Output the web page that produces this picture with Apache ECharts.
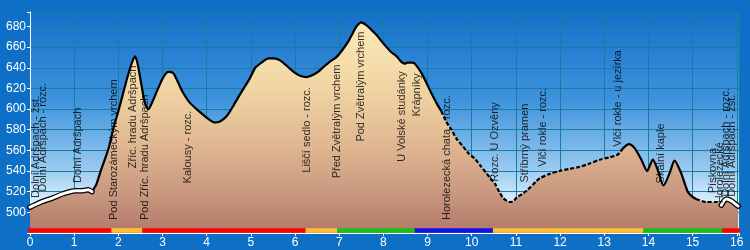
<!DOCTYPE html>
<html>
<head>
<meta charset="utf-8">
<script src="https://cdn.jsdelivr.net/npm/echarts@6/dist/echarts.min.js"></script>
<style>
html,body{margin:0;padding:0;background:#0d6fc6;}
#c{width:750px;height:250px;}
</style>
</head>
<body>
<div id="c"></div>
<script>
// ---- data ----
const dist = [0.00,0.25,0.52,0.75,1.02,1.20,1.32,1.40,1.50,1.60,1.70,1.78,1.88,2.00,2.10,2.20,2.30,2.38,2.44,2.52,2.60,2.68,2.78,2.90,3.02,3.13,3.24,3.35,3.45,3.62,3.85,4.05,4.18,4.30,4.45,4.60,4.75,4.98,5.10,5.24,5.40,5.50,5.62,5.73,5.86,6.00,6.13,6.26,6.40,6.52,6.65,6.79,6.93,7.05,7.20,7.30,7.39,7.50,7.62,7.72,7.84,7.95,8.07,8.18,8.30,8.40,8.48,8.55,8.65,8.71,8.86,9.00,9.09,9.20,9.31,9.42,9.54,9.66,9.80,9.93,10.07,10.20,10.33,10.42,10.52,10.62,10.71,10.80,10.86,10.95,11.01,11.15,11.27,11.46,11.54,11.75,11.99,12.20,12.44,12.65,12.90,13.10,13.31,13.42,13.56,13.69,13.84,13.97,14.03,14.10,14.21,14.34,14.48,14.59,14.74,14.89,15.00,15.08,15.31,15.54,15.65,15.76,15.88,16.03];
const elev = [505,510,514,518,521,521,522,520,527,540,552,562,580,598,614,630,644,651,643,624,606,600,608,620,631,636,635,626,617,606,597,590,587,588,593,603,614,630,640,645,649,649,648,645,640,635,632,631,633,636,641,646,650,656,665,673,680,684,681,677,672,666,660,655,651,646,644,645,645,644,635,623,615,606,598,588,580,571,564,557,552,545,538,533,528,520,514,511,510,511,514,518,522,530,533,537,540,542,544,547,551,553,556,562,566,562,551,540,545,551,541,526,538,550,538,520,515,513,510,510,507,513,511,506];

const wpNames = ["Dolní Adršpach - žst.","Dolní Adršpach - rozc.","Dolní Adršpach","Pod Starozámeckým vrchem","Zříc. hradu Adršpach","Pod Zříc. hradu Adršpach","Kalousy - rozc.","Liščí sedlo - rozc.","Před Zvětralým vrchem","Pod Zvětralým vrchem","U Volské studánky","Krápníky","Horolezecká chata - rozc.","Rozc. U Ozvěny","Stříbrný pramen","Vlčí rokle - rozc.","Vlčí rokle - u jezírka","Skalní kaple","Pískovna","Horolezecké","Dolní Adršpach - rozc.","Dolní Adršpach - žst."];
const wpDist = [0.14,0.29,1.09,1.91,2.32,2.60,3.58,6.27,6.94,7.50,8.42,8.75,9.44,10.52,11.20,11.61,13.31,14.29,15.46,15.61,15.75,15.90];
const wpLabelElev = [514,520,528.5,492.6,542.7,492.6,528,538.4,533,568.5,549,592.7,492.6,529.7,528.8,544.2,563.6,528,518.5,508.8,515,515];

const trailStart = [0.00,1.84,2.54,6.24,6.95,8.71,10.48,13.88,15.71];
const trailEnd   = [1.84,2.54,6.24,6.95,8.71,10.48,13.88,15.71,16.03];
const trailColor = ['#ff0000','#ffc030','#ff0000','#ffc030','#18c018','#1010e8','#ffc030','#18c018','#ff0000'];

const yTicksMin = 500, yTicksMax = 680;

// ---- styling config ----
const solidRanges  = [[1.40, 9.31],[13.42, 15.08]];
const dashedRanges = [[9.31, 13.42],[15.08, 15.65]];
const whiteRanges  = [[0, 1.40],[15.65, 16.03]];
const barLevel = 482.5;
const FONT = '"Liberation Sans", Arial, sans-serif';
const SMOOTH = 0.25;

const profile = dist.map((d,i)=>[d, elev[i]]);
const inRange = r => profile.filter(p => p[0] >= r[0]-1e-9 && p[0] <= r[1]+1e-9);

const series = [];
series.push({
  type:'line', data: profile, symbol:'none', smooth:SMOOTH, z:2,
  lineStyle:{width:0},
  areaStyle:{ origin:'start', opacity:1,
    color:new echarts.graphic.LinearGradient(0,0,0,1,[
      {offset:0,color:'#fbe9b7'},
      {offset:0.3,color:'#f1d6a5'},
      {offset:0.6,color:'#deb590'},
      {offset:0.82,color:'#c8977f'},
      {offset:1,color:'#b27867'}])}
});
solidRanges.forEach(r=>series.push({type:'line',data:inRange(r),symbol:'none',smooth:SMOOTH,z:4,lineStyle:{color:'#000',width:2.2}}));
dashedRanges.forEach(r=>series.push({type:'line',data:inRange(r),symbol:'none',smooth:SMOOTH,z:4,lineStyle:{color:'#000',width:2.2,type:[4,2]}}));
whiteRanges.forEach(r=>{
  series.push({type:'line',data:inRange(r),symbol:'none',smooth:SMOOTH,z:4,clip:false,lineStyle:{color:'#000',width:5.5,cap:'round'}});
  series.push({type:'line',data:inRange(r),symbol:'none',smooth:SMOOTH,z:5,clip:false,lineStyle:{color:'#fff',width:3,cap:'round'}});
});
trailStart.forEach((s,i)=>series.push({type:'line',data:[[s,barLevel],[trailEnd[i],barLevel]],symbol:'none',z:6,clip:false,
  lineStyle:{color:trailColor[i],width:4.5,cap:(i===0||i===trailStart.length-1)?'round':'butt'}}));
series.push({
  type:'scatter', z:7, symbol:'circle', symbolSize:1, itemStyle:{color:'rgba(0,0,0,0)'},
  data: wpDist.map((d,i)=>({value:[d, wpLabelElev[i]], name:wpNames[i]})),
  label:{show:true, formatter:p=>p.name, position:'inside', rotate:90, align:'left', verticalAlign:'middle',
    color:'#000', fontSize:11, fontFamily:FONT},
  labelLayout:{hideOverlap:false}
});

const chart = echarts.init(document.getElementById('c'), null, {renderer:'canvas'});
chart.setOption({
  animation:false,
  backgroundColor:'#0d6fc6',
  grid:{left:30,right:11,top:12,bottom:17,show:true,borderWidth:0,
    backgroundColor:new echarts.graphic.LinearGradient(0,0,0,1,[
      {offset:0,color:'#1471c8'},
      {offset:0.4,color:'#3e93dc'},
      {offset:0.7,color:'#96c7ef'},
      {offset:0.85,color:'#d6ebfa'},
      {offset:1,color:'#ffffff'}])},
  xAxis:{type:'value',min:0,max:16.05,interval:1,
    axisLine:{show:true,lineStyle:{color:'#fff',width:1}},
    axisTick:{show:true,length:3,lineStyle:{color:'#fff'}},
    axisLabel:{color:'#fff',fontSize:12,fontFamily:FONT,margin:4,
      formatter:v=>Math.abs(v-Math.round(v))<1e-6?String(Math.round(v)):''},
    splitLine:{show:true,lineStyle:{color:'#167ea3',width:1}}},
  yAxis:{type:'value',min:480,max:694,interval:20,
    axisLine:{show:true,lineStyle:{color:'#fff',width:1}},
    axisTick:{show:true,length:3,lineStyle:{color:'#fff'}},
    axisLabel:{color:'#fff',fontSize:12,fontFamily:FONT,margin:4,
      formatter:v=>(v>=yTicksMin&&v<=yTicksMax&&v%20===0)?String(v):''},
    splitLine:{show:true,lineStyle:{color:'#167ea3',width:1}}},
  series:series
});
</script>
</body>
</html>
